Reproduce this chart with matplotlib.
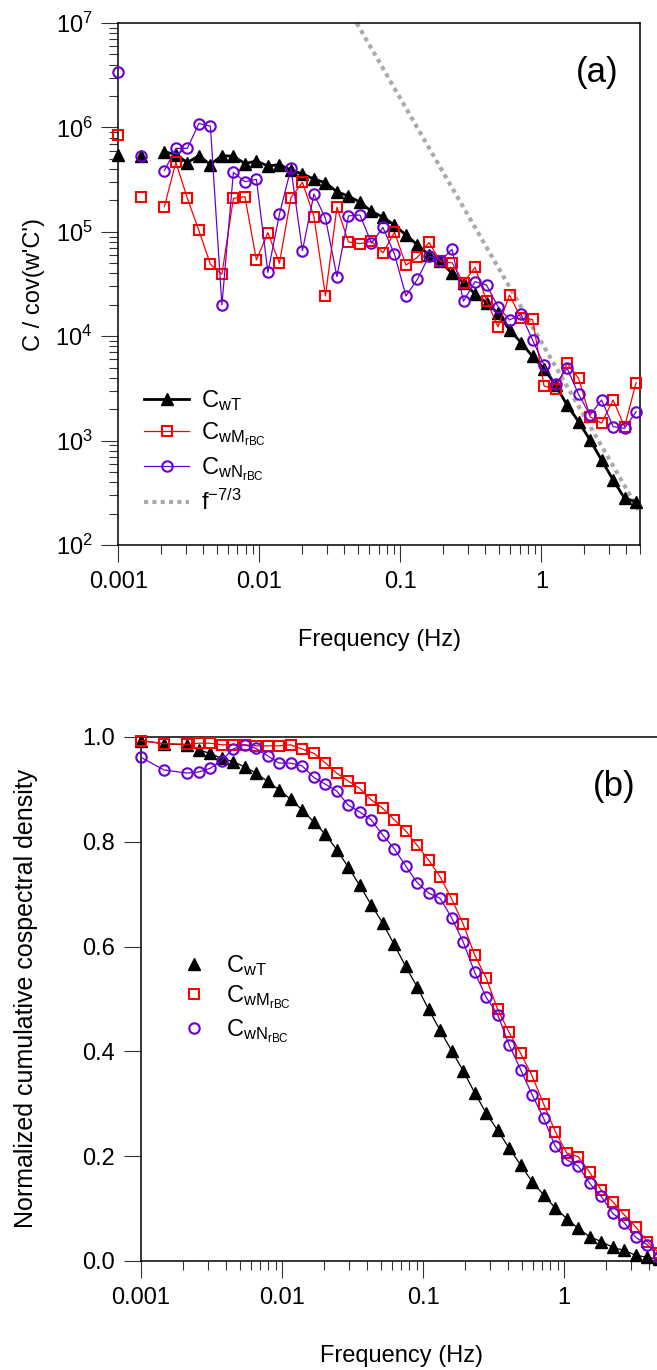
"""
cospectra.py
Cospectra and normalized cumulative cospectra of w'T', w'M_rBC' and w'N_rBC'.
"""

import numpy as np
import matplotlib
matplotlib.use('Agg')
import matplotlib.pyplot as plt
from matplotlib.ticker import FixedLocator, LogLocator, NullFormatter, FuncFormatter

plt.rcParams['font.family'] = ['Liberation Sans', 'DejaVu Sans']
plt.rcParams['mathtext.fontset'] = 'custom'
plt.rcParams['mathtext.rm'] = 'Liberation Sans'
plt.rcParams['mathtext.it'] = 'Liberation Sans:italic'
plt.rcParams['mathtext.default'] = 'regular'

nan = np.nan

# log-binned frequencies (Hz), empty bins are nan in the series
freq = [0.001, 0.001207, 0.001456, 0.001756, 0.00212, 0.002559, 0.003088,
        0.003726, 0.004496, 0.005425, 0.006546, 0.007899, 0.009532, 0.0115,
        0.01388, 0.01675, 0.02021, 0.02439, 0.02943, 0.03551, 0.04285,
        0.05171, 0.0624, 0.0753, 0.09086, 0.1096, 0.1323, 0.1596, 0.1926,
        0.2324, 0.2805, 0.3385, 0.4084, 0.4929, 0.5947, 0.7178, 0.8661,
        1.045, 1.261, 1.522, 1.837, 2.216, 2.674, 3.227, 3.894, 4.699]

#%% (a) normalized cospectra
co_wT = [5.45e5, nan, 5.3e5, nan, 5.85e5, 5.5e5, 4.6e5, 5.36e5, 4.4e5, 5.36e5,
         5.3e5, 4.5e5, 4.77e5, 4.27e5, 4.4e5, 3.9e5, 3.58e5, 3.2e5, 2.95e5,
         2.42e5, 2.2e5, 1.92e5, 1.57e5, 1.38e5, 1.16e5, 9.3e4, 7.5e4, 6.0e4,
         5.2e4, 4.0e4, 3.26e4, 2.54e4, 2.09e4, 1.66e4, 1.15e4, 8.7e3, 6.4e3,
         4.9e3, 3.4e3, 2.19e3, 1.52e3, 1.01e3, 652, 420, 280, 260]

co_wM = [8.45e5, nan, 2.14e5, nan, 1.74e5, 4.63e5, 2.09e5, 1.03e5, 4.89e4,
         3.92e4, 2.09e5, 2.17e5, 5.37e4, 9.8e4, 4.99e4, 2.12e5, 2.98e5, 1.4e5,
         2.43e4, 1.72e5, 8.0e4, 7.7e4, 8.1e4, 6.3e4, 9.9e4, 4.8e4, 5.7e4,
         7.9e4, 5.2e4, 5.06e4, 3.26e4, 4.57e4, 2.19e4, 1.23e4, 2.48e4, 1.48e4,
         1.45e4, 3.34e3, 3.1e3, 5.5e3, 3.95e3, 1.69e3, 1.47e3, 2.45e3, 1.36e3,
         3.6e3]

co_wN = [3.42e6, nan, 5.36e5, nan, 3.85e5, 6.3e5, 6.3e5, 1.09e6, 1.03e6, 1.99e4,
         3.71e5, 3.02e5, 3.18e5, 4.09e4, 1.47e5, 4.05e5, 6.6e4, 2.3e5, 1.35e5,
         3.72e4, 1.42e5, 1.45e5, 7.8e4, 1.1e5, 6.1e4, 2.43e4, 3.51e4, 5.86e4,
         5.25e4, 6.8e4, 2.17e4, 3.33e4, 3.09e4, 1.92e4, 1.43e4, 1.62e4, 9.2e3,
         5.3e3, 3.46e3, 4.93e3, 2.77e3, 1.76e3, 2.45e3, 1.36e3, 1.31e3, 1.89e3]

# f^-7/3 guide line
slope_f = [0.04, 5.0]
slope_amp = 8800

#%% (b) normalized cumulative cospectra
cum_wT = [0.993, nan, 0.987, nan, 0.985, 0.975, 0.969, 0.959, 0.953, 0.943,
          0.931, 0.915, 0.899, 0.881, 0.861, 0.838, 0.815, 0.785, 0.752, 0.717,
          0.680, 0.645, 0.604, 0.562, 0.523, 0.480, 0.440, 0.401, 0.363, 0.321,
          0.282, 0.249, 0.215, 0.183, 0.151, 0.126, 0.101, 0.081, 0.062, 0.046,
          0.037, 0.026, 0.020, 0.011, 0.007, 0.003]

cum_wM = [0.993, nan, 0.987, nan, 0.986, 0.988, 0.988, 0.985, 0.985, 0.985,
          0.983, 0.983, 0.983, 0.985, 0.977, 0.969, 0.951, 0.931, 0.916, 0.902,
          0.880, 0.864, 0.842, 0.821, 0.793, 0.765, 0.733, 0.691, 0.643, 0.584,
          0.540, 0.480, 0.436, 0.396, 0.353, 0.299, 0.247, 0.206, 0.199, 0.169,
          0.135, 0.113, 0.088, 0.065, 0.037, 0.015]

cum_wN = [0.961, nan, 0.937, nan, 0.931, 0.933, 0.940, 0.955, 0.977, 0.985,
          0.978, 0.964, 0.950, 0.950, 0.945, 0.923, 0.910, 0.897, 0.870, 0.857,
          0.842, 0.813, 0.787, 0.754, 0.722, 0.702, 0.692, 0.655, 0.609, 0.551,
          0.503, 0.470, 0.412, 0.365, 0.317, 0.272, 0.219, 0.193, 0.181, 0.148,
          0.123, 0.091, 0.073, 0.045, 0.031, 0.008]

black = 'black'
red = '#ff0000'
purple = '#6a00d0'
fs = 17

lab_T = r'C$_{wT}$'
lab_M = r'C$_{wM_{rBC}}$'
lab_N = r'C$_{wN_{rBC}}$'


def style_freq_axis(ax):
    ax.set_xscale('log')
    ax.set_xlim(0.001, 5.0)
    ax.xaxis.set_major_locator(FixedLocator([0.001, 0.01, 0.1, 1]))
    ax.xaxis.set_major_formatter(FuncFormatter(lambda v, p: '%g' % v))
    ax.xaxis.set_minor_locator(LogLocator(base=10, subs=np.arange(2, 10)))
    ax.xaxis.set_minor_formatter(NullFormatter())
    ax.tick_params(which='major', direction='out', length=12.5, width=0.8,
                   color='#333333', labelsize=fs, pad=6)
    ax.tick_params(which='minor', direction='out', length=6.5, width=0.8,
                   color='#333333')
    ax.tick_params(top=False, right=False, which='both')
    for s in ax.spines.values():
        s.set_linewidth(1.1)
    ax.set_xlabel('Frequency (Hz)', fontsize=fs, labelpad=26)


fig = plt.figure(figsize=(6.57, 13.70), dpi=100)

#%% panel (a)
ax1 = fig.add_axes([0.1801, 0.6022, 0.7939, 0.3810])
f = np.array(freq)
ax1.plot(freq, co_wT, color=black, lw=2, marker='^', ms=9, label=lab_T,
         zorder=3, clip_on=False)
ax1.plot(freq, co_wM, color=red, lw=0.9, marker='s', ms=7, mfc='none',
         mec=red, mew=1.5, label=lab_M, zorder=4, clip_on=False)
ax1.plot(freq, co_wN, color=purple, lw=0.9, marker='o', ms=7.5, mfc='none',
         mec=purple, mew=1.5, label=lab_N, zorder=5, clip_on=False)
sf = np.geomspace(slope_f[0], slope_f[1], 50)
ax1.plot(sf, slope_amp * sf ** (-7 / 3), color='#aaaaaa', lw=3,
         ls=(0, (1, 1)), label=r'f$^{-7/3}$', zorder=2)

style_freq_axis(ax1)
ax1.set_yscale('log')
ax1.set_ylim(1e2, 1e7)
ax1.yaxis.set_major_locator(LogLocator(base=10, numticks=10))
ax1.yaxis.set_minor_locator(LogLocator(base=10, subs=np.arange(2, 10), numticks=20))
ax1.yaxis.set_minor_formatter(NullFormatter())
ax1.set_ylabel("C / cov(w'C')", fontsize=fs)
ax1.yaxis.set_label_coords(-0.14, 0.5)
ax1.text(0.918, 0.906, '(a)', transform=ax1.transAxes, fontsize=25,
         ha='center', va='center')
ax1.legend(loc='upper left', bbox_to_anchor=(0.05, 0.30), frameon=False,
           fontsize=fs, handlelength=1.9, handletextpad=0.5,
           labelspacing=0.3, borderpad=0, borderaxespad=0)

#%% panel (b)
ax2 = fig.add_axes([0.2146, 0.0796, 0.7939, 0.3825])


def finite(y):
    y = np.array(y)
    m = np.isfinite(y)
    return f[m], y[m]


ax2.plot(*finite(cum_wT), color=black, lw=0.9, marker='^', ms=8,
         label=lab_T, zorder=3, clip_on=False)
ax2.plot(*finite(cum_wM), color=red, lw=0.9, marker='s', ms=7, mfc='none',
         mec=red, mew=1.5, label=lab_M, zorder=4, clip_on=False)
ax2.plot(*finite(cum_wN), color=purple, lw=0.9, marker='o', ms=7.5,
         mfc='none', mec=purple, mew=1.5, label=lab_N, zorder=5, clip_on=False)

style_freq_axis(ax2)
ax2.set_ylim(0, 1.0)
ax2.set_yticks([0.0, 0.2, 0.4, 0.6, 0.8, 1.0])
ax2.yaxis.set_major_formatter(FuncFormatter(lambda v, p: '%.1f' % v))
ax2.set_ylabel('Normalized cumulative cospectral density', fontsize=18)
ax2.yaxis.set_label_coords(-0.198, 0.5)
ax2.text(0.907, 0.905, '(b)', transform=ax2.transAxes, fontsize=25,
         ha='center', va='center')

# legend shows markers only
handles, labels = ax2.get_legend_handles_labels()
leg_h = []
for h in handles:
    leg_h.append(plt.Line2D([], [], ls='none', marker=h.get_marker(),
                            ms=h.get_markersize(), mfc=h.get_mfc(),
                            mec=h.get_mec(), mew=h.get_mew()))
ax2.legend(leg_h, labels, loc='upper left', bbox_to_anchor=(0.067, 0.588),
           frameon=False, fontsize=fs, handlelength=1.5, handletextpad=0.6,
           labelspacing=0.25, borderpad=0, borderaxespad=0)

fig.savefig('out.png', dpi=100)
